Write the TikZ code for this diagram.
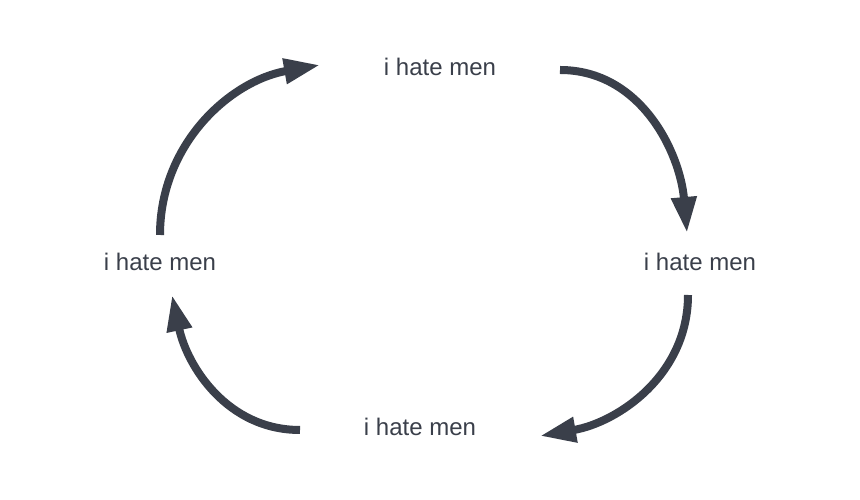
\documentclass[tikz,border=0pt]{standalone}
\usepackage{fontspec}
\setmainfont{Liberation Sans}
\usetikzlibrary{arrows.meta}

\definecolor{slate}{HTML}{3A3F4A}

\begin{document}
\begin{tikzpicture}[x=1pt, y=1pt, >={Triangle[length=36pt, width=24pt]},
  line width=8pt, color=slate,
  lbl/.style={text=slate, font=\fontsize{24}{28}\selectfont, inner sep=0pt}]
  \useasboundingbox (0,0) rectangle (860,500);
  % labels
  \node[lbl] (ntop) at (440,433) {i hate men};
  \node[lbl] (nright) at (700,238) {i hate men};
  \node[lbl] (nbottom) at (420,73) {i hate men};
  \node[lbl] (nleft) at (160,238) {i hate men};
  % arc ends
  \coordinate (s1) at (560,430);
  \coordinate (e1) at (687,267);
  \coordinate (s2) at (688,205);
  \coordinate (e2) at (540,64);
  \coordinate (s3) at (300,70);
  \coordinate (e3) at (172,205);
  \coordinate (s4) at (160,265);
  \coordinate (e4) at (320,435);
  % cycle
  \draw[->] (s1) to[out=0, in=95] (e1);
  \draw[->] (s2) to[out=-90, in=10] (e2);
  \draw[->] (s3) to[out=180, in=-78] (e3);
  \draw[->] (s4) to[out=90, in=190] (e4);
\end{tikzpicture}
\end{document}
